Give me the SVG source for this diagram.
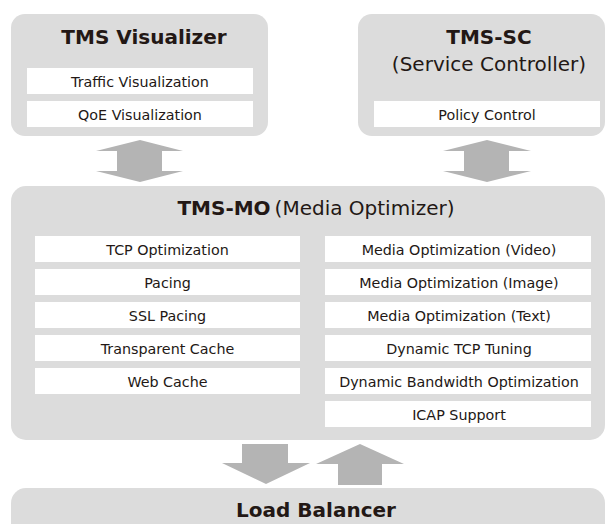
<svg xmlns="http://www.w3.org/2000/svg" width="606" height="524" viewBox="0 0 606 524">
<style>
.panel{fill:#dcdcdc}
.item{fill:#ffffff}
.arrow{fill:#b4b4b4}
text{font-family:"DejaVu Sans",Verdana,sans-serif;fill:#231815;text-anchor:middle}
.title{font-size:20px;font-weight:bold}
.sub{font-size:20px;font-weight:normal}
.lbl{font-size:14.3px}
</style>
<rect width="606" height="524" fill="#ffffff"/>
<g id="connectors">
<polygon class="arrow" points="140,140 183,151 162,151 162,171 183,171 140,182 96,171 117,171 117,151 96,151"/>
<polygon class="arrow" points="487,140 531,151 509,151 509,171 531,171 487,182 443,171 464,171 464,151 443,151"/>
<polygon class="arrow" points="242,444 288,444 288,463 310,463 266,484 222,463 242,463"/>
<polygon class="arrow" points="360,444 404,464 382,464 382,485 338,485 338,464 316,464"/>
</g>
<g id="tms-visualizer">
<rect class="panel" x="11" y="14" width="257" height="122" rx="14"/>
<text class="title" x="144" y="44">TMS Visualizer</text>
<rect class="item" x="27" y="68" width="226" height="26"/>
<text class="lbl" x="140" y="86.5">Traffic Visualization</text>
<rect class="item" x="27" y="101" width="226" height="26"/>
<text class="lbl" x="140" y="119.5">QoE Visualization</text>
</g>
<g id="tms-sc">
<rect class="panel" x="358" y="14" width="247" height="122" rx="14"/>
<text class="title" x="489" y="44">TMS-SC</text>
<text class="sub" x="489" y="71">(Service Controller)</text>
<rect class="item" x="374" y="101" width="226" height="26"/>
<text class="lbl" x="487" y="119.5">Policy Control</text>
</g>
<g id="tms-mo">
<rect class="panel" x="11" y="186" width="594" height="254" rx="15"/>
<text x="316" y="215"><tspan class="title">TMS-MO</tspan><tspan class="sub" dx="4">(Media Optimizer)</tspan></text>
<rect class="item" x="35" y="236" width="265" height="26"/>
<text class="lbl" x="167.5" y="254.5">TCP Optimization</text>
<rect class="item" x="35" y="269" width="265" height="26"/>
<text class="lbl" x="167.5" y="287.5">Pacing</text>
<rect class="item" x="35" y="302" width="265" height="26"/>
<text class="lbl" x="167.5" y="320.5">SSL Pacing</text>
<rect class="item" x="35" y="335" width="265" height="26"/>
<text class="lbl" x="167.5" y="353.5">Transparent Cache</text>
<rect class="item" x="35" y="368" width="265" height="26"/>
<text class="lbl" x="167.5" y="386.5">Web Cache</text>
<rect class="item" x="325" y="236" width="266" height="26"/>
<text class="lbl" x="459" y="254.5">Media Optimization (Video)</text>
<rect class="item" x="325" y="269" width="266" height="26"/>
<text class="lbl" x="459" y="287.5">Media Optimization (Image)</text>
<rect class="item" x="325" y="302" width="266" height="26"/>
<text class="lbl" x="459" y="320.5">Media Optimization (Text)</text>
<rect class="item" x="325" y="335" width="266" height="26"/>
<text class="lbl" x="459" y="353.5">Dynamic TCP Tuning</text>
<rect class="item" x="325" y="368" width="266" height="26"/>
<text class="lbl" x="459" y="386.5">Dynamic Bandwidth Optimization</text>
<rect class="item" x="325" y="401" width="266" height="26"/>
<text class="lbl" x="459" y="419.5">ICAP Support</text>
</g>
<g id="load-balancer">
<rect class="panel" x="11" y="488" width="594" height="60" rx="15"/>
<text class="title" x="316" y="517">Load Balancer</text>
</g>
</svg>
